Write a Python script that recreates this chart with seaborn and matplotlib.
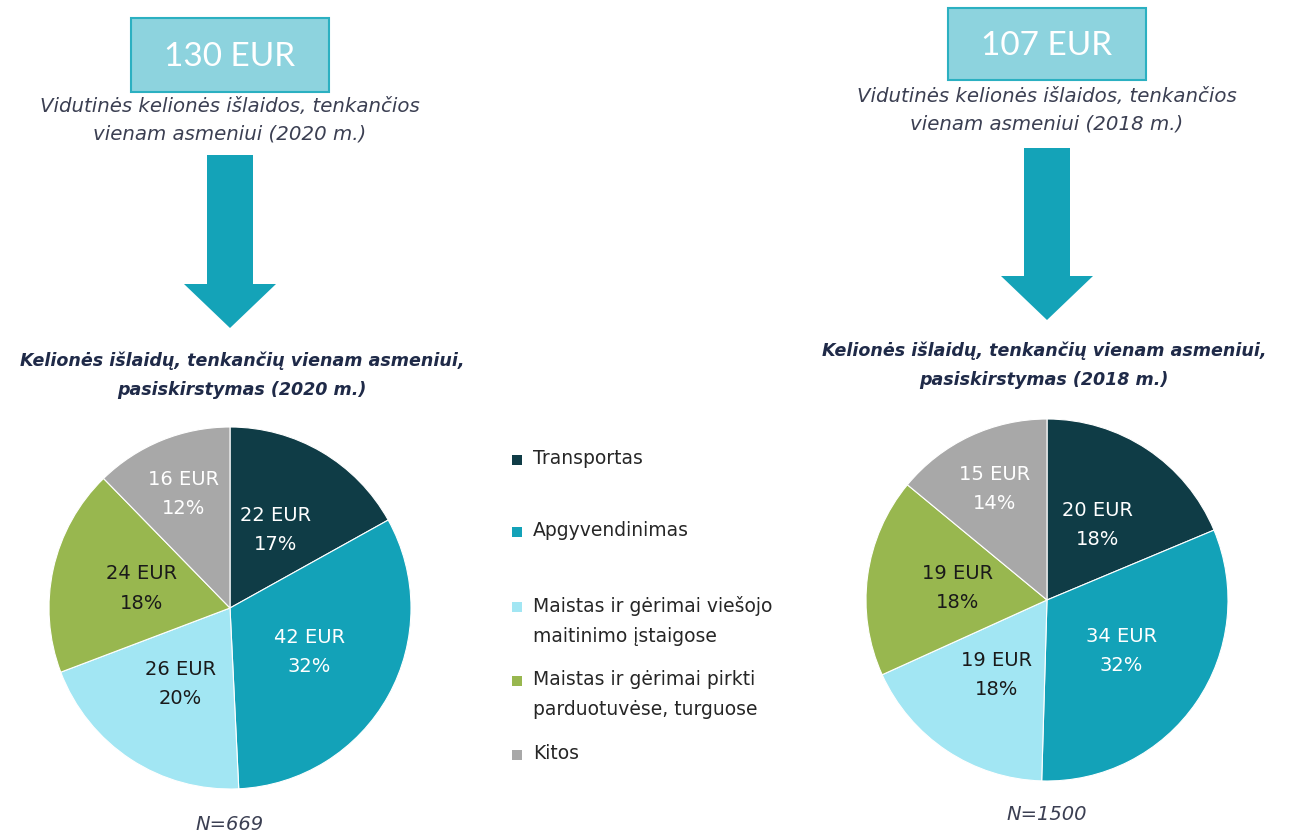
import matplotlib
matplotlib.use("Agg")
import matplotlib.pyplot as plt
from matplotlib.patches import Rectangle, Polygon
import numpy as np
import seaborn as sns

# ---------------- data ----------------
categories = [
    "Transportas",
    "Apgyvendinimas",
    "Maistas ir gėrimai viešojo\nmaitinimo įstaigose",
    "Maistas ir gėrimai pirkti\nparduotuvėse, turguose",
    "Kitos",
]
eur_2020 = [22, 42, 26, 24, 16]
pct_2020 = [17, 32, 20, 18, 12]
eur_2018 = [20, 34, 19, 19, 15]
pct_2018 = [18, 32, 18, 18, 14]
total_2020 = "130 EUR"
total_2018 = "107 EUR"
n_2020 = "N=669"
n_2018 = "N=1500"
sub_2020 = "Vidutinės kelionės išlaidos, tenkančios\nvienam asmeniui (2020 m.)"
sub_2018 = "Vidutinės kelionės išlaidos, tenkančios\nvienam asmeniui (2018 m.)"
title_2020 = "Kelionės išlaidų, tenkančių vienam asmeniui,\npasiskirstymas (2020 m.)"
title_2018 = "Kelionės išlaidų, tenkančių vienam asmeniui,\npasiskirstymas (2018 m.)"

colors = ["#0f3c46", "#13a2b8", "#a2e6f3", "#98b74f", "#a8a8a8"]
label_colors = ["white", "white", "#1a1a1a", "#1a1a1a", "white"]

sns.set_theme(style="white")
plt.rcParams["font.family"] = ["DejaVu Sans"]

W, H = 1291, 835
fig = plt.figure(figsize=(W / 100, H / 100), dpi=100)
fig.patch.set_facecolor("white")

bg = fig.add_axes([0, 0, 1, 1])
bg.set_xlim(0, W)
bg.set_ylim(H, 0)
bg.axis("off")

arrow_col = "#14a3b8"
text_col = "#3b3f52"
title_col = "#1f2a48"


def header(cx, box_top, box_bot, total, sub, sub_y, arr_top, arr_head_y, arr_tip,
           title, title_x, title_y):
    bw = 198
    bg.add_patch(Rectangle((cx - bw / 2, box_top), bw, box_bot - box_top,
                           facecolor="#8dd3de", edgecolor="#2bb0c1", lw=1.5, zorder=2))
    bg.text(cx, (box_top + box_bot) / 2 + 2, total, color="white", fontsize=24,
            family=["Lato", "DejaVu Sans"], ha="center", va="center", zorder=3)
    bg.text(cx, sub_y, sub, color=text_col, fontsize=14.2, style="italic",
            ha="center", va="center", linespacing=1.58)
    sw, hw = 23, 46
    poly = [(cx - sw, arr_top), (cx + sw, arr_top), (cx + sw, arr_head_y),
            (cx + hw, arr_head_y), (cx, arr_tip), (cx - hw, arr_head_y),
            (cx - sw, arr_head_y)]
    bg.add_patch(Polygon(poly, closed=True, facecolor=arrow_col, edgecolor="none"))
    bg.text(title_x, title_y, title, color=title_col, fontsize=12.6, style="italic",
            weight="bold", ha="center", va="center", linespacing=1.8)


header(230, 18, 92, total_2020, sub_2020, 120, 155, 284, 328, title_2020, 242, 375)
header(1047, 8, 80, total_2018, sub_2018, 110, 148, 276, 320, title_2018, 1044, 365)


def draw_pie(cx, cy, r, eur, pct, ntext, ny):
    ax = fig.add_axes([(cx - r) / W, (H - cy - r) / H, 2 * r / W, 2 * r / H])
    wedges, _ = ax.pie(eur, colors=colors, startangle=90, counterclock=False,
                       wedgeprops=dict(edgecolor="white", linewidth=0.8))
    ax.set_xlim(-1, 1)
    ax.set_ylim(-1, 1)
    ax.set_aspect("equal")
    ax.axis("off")
    for i, w in enumerate(wedges):
        ang = np.deg2rad((w.theta1 + w.theta2) / 2)
        d = 0.68 if i == len(wedges) - 1 else 0.5
        ax.text(d * np.cos(ang), d * np.sin(ang), f"{eur[i]} EUR\n{pct[i]}%",
                color=label_colors[i], fontsize=14, ha="center", va="center",
                linespacing=1.68)
    bg.text(cx, ny, ntext, color=text_col, fontsize=14, style="italic",
            ha="center", va="center")


draw_pie(230, 608, 181, eur_2020, pct_2020, n_2020, 825)
draw_pie(1047, 600, 181, eur_2018, pct_2018, n_2018, 815)

# legend
leg_y = [460, 532, 607, 681, 755]
for i, lab in enumerate(categories):
    bg.add_patch(Rectangle((512, leg_y[i] - 5), 10, 10, facecolor=colors[i],
                           edgecolor="none"))
    bg.text(533, leg_y[i] - 11, lab, color="#262626", fontsize=13.5,
            ha="left", va="top", linespacing=1.76)

fig.savefig("out.png", dpi=100, facecolor="white")
